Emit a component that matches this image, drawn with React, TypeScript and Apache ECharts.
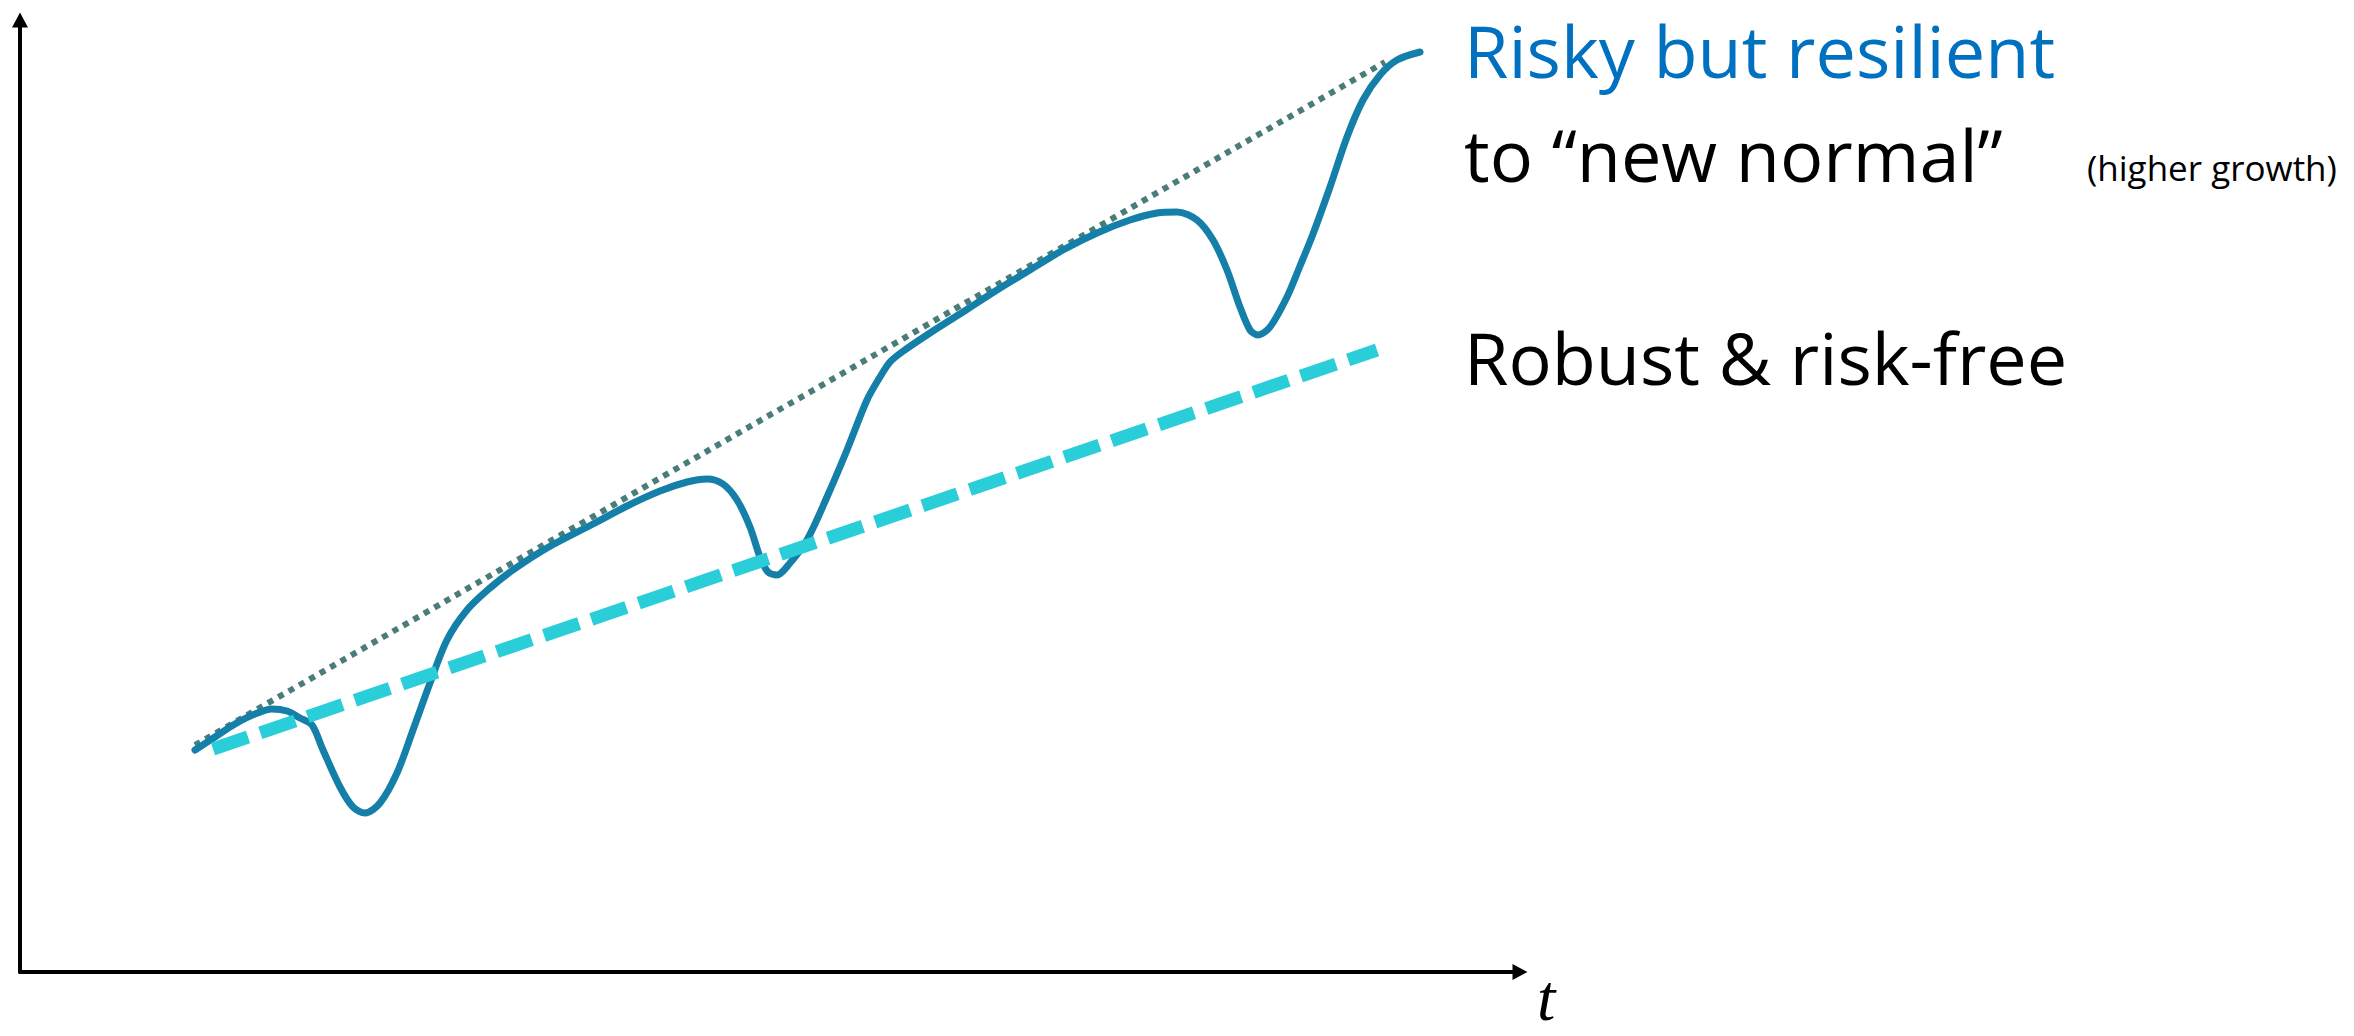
import { useEffect, useRef } from "react";
import * as echarts from "echarts";

// Risky-but-resilient path (x: time, y: level)
const riskyX = [175, 195, 215, 235, 252, 267, 280, 292, 303, 320, 333, 345, 360, 377, 393, 410, 427, 447, 470, 493, 527, 573, 607, 640, 667, 687, 703, 717, 730, 740, 748, 757, 770, 787, 807, 827, 847, 860, 870, 882, 910, 943, 977, 1010, 1043, 1077, 1110, 1137, 1157, 1177, 1193, 1207, 1220, 1230, 1238, 1250, 1267, 1280, 1293, 1310, 1327, 1343, 1360, 1377, 1400];
const riskyY = [222, 235, 248, 258, 263, 261, 254, 247, 222, 185, 165, 159, 169, 199, 242, 289, 332, 362, 384, 402, 424, 448, 466, 481, 490, 493, 488, 472, 445, 415, 400, 397, 409, 432, 475, 522, 572, 595, 610, 620, 639, 660, 682, 702, 722, 739, 752, 759, 760, 752, 732, 702, 665, 642, 637, 645, 675, 706, 738, 785, 835, 872, 897, 912, 920];

// "New normal" trend (dotted)
const trendX = [175, 1365];
const trendY = [227, 910];

// Robust & risk-free (dashed)
const robustX = [193, 1357];
const robustY = [223, 622];

const labelRisky = "Risky but resilient";
const labelNewNormal = "to \u201cnew normal\u201d";
const labelHigher = "(higher growth)";
const labelRobust = "Robust & risk-free";
const labelTime = "t";

const pairs = (xs: number[], ys: number[]) => xs.map((x, i) => [x, ys[i]]);

export default function App() {
  const ref = useRef<HTMLDivElement>(null);
  useEffect(() => {
    document.body.style.margin = "0";
    const chart = echarts.init(ref.current!, null, { renderer: "svg" });
    const sans = '"Open Sans", "Noto Sans", sans-serif';
    chart.setOption({
      animation: false,
      backgroundColor: "#ffffff",
      grid: { left: 20, top: 20, width: 1500, height: 952 },
      xAxis: {
        type: "value",
        min: 0,
        max: 1500,
        axisLine: {
          show: true,
          lineStyle: { color: "#000", width: 4 },
          symbol: ["none", "triangle"],
          symbolSize: [16, 15],
        },
        axisTick: { show: false },
        axisLabel: { show: false },
        splitLine: { show: false },
      },
      yAxis: {
        type: "value",
        min: 0,
        max: 952,
        axisLine: {
          show: true,
          lineStyle: { color: "#000", width: 4 },
          symbol: ["none", "triangle"],
          symbolSize: [16, 15],
        },
        axisTick: { show: false },
        axisLabel: { show: false },
        splitLine: { show: false },
      },
      series: [
        {
          type: "line",
          data: pairs(trendX, trendY),
          symbol: "none",
          lineStyle: { color: "#4a7c79", width: 6, type: [6, 6], cap: "butt" },
          z: 2,
        },
        {
          type: "line",
          data: pairs(riskyX, riskyY),
          symbol: "none",
          smooth: 0.3,
          lineStyle: { color: "#147fa8", width: 7, cap: "round", join: "round" },
          z: 3,
        },
        {
          type: "line",
          data: pairs(robustX, robustY),
          symbol: "none",
          lineStyle: { color: "#29ced9", width: 13, type: [37, 13], cap: "butt" },
          z: 4,
        },
      ],
      graphic: [
        {
          type: "text",
          x: 1464,
          y: 50,
          style: { text: labelRisky, font: `72px ${sans}`, fill: "#0070c0", align: "left", verticalAlign: "middle" },
        },
        {
          type: "text",
          x: 1464,
          y: 154,
          style: { text: labelNewNormal, font: `72px ${sans}`, fill: "#000", align: "left", verticalAlign: "middle" },
        },
        {
          type: "text",
          x: 2087,
          y: 167,
          style: { text: labelHigher, font: `35px ${sans}`, fill: "#000", align: "left", verticalAlign: "middle" },
        },
        {
          type: "text",
          x: 1464,
          y: 357,
          style: { text: labelRobust, font: `72px ${sans}`, fill: "#000", align: "left", verticalAlign: "middle" },
        },
        {
          type: "text",
          x: 1537,
          y: 997,
          style: { text: labelTime, font: 'italic 66px "Liberation Serif", serif', lineHeight: 44, fill: "#000", align: "left", verticalAlign: "middle" },
        },
      ],
    });
    return () => chart.dispose();
  }, []);
  return <div ref={ref} style={{ width: 2354, height: 1036, background: "#fff" }} />;
}
